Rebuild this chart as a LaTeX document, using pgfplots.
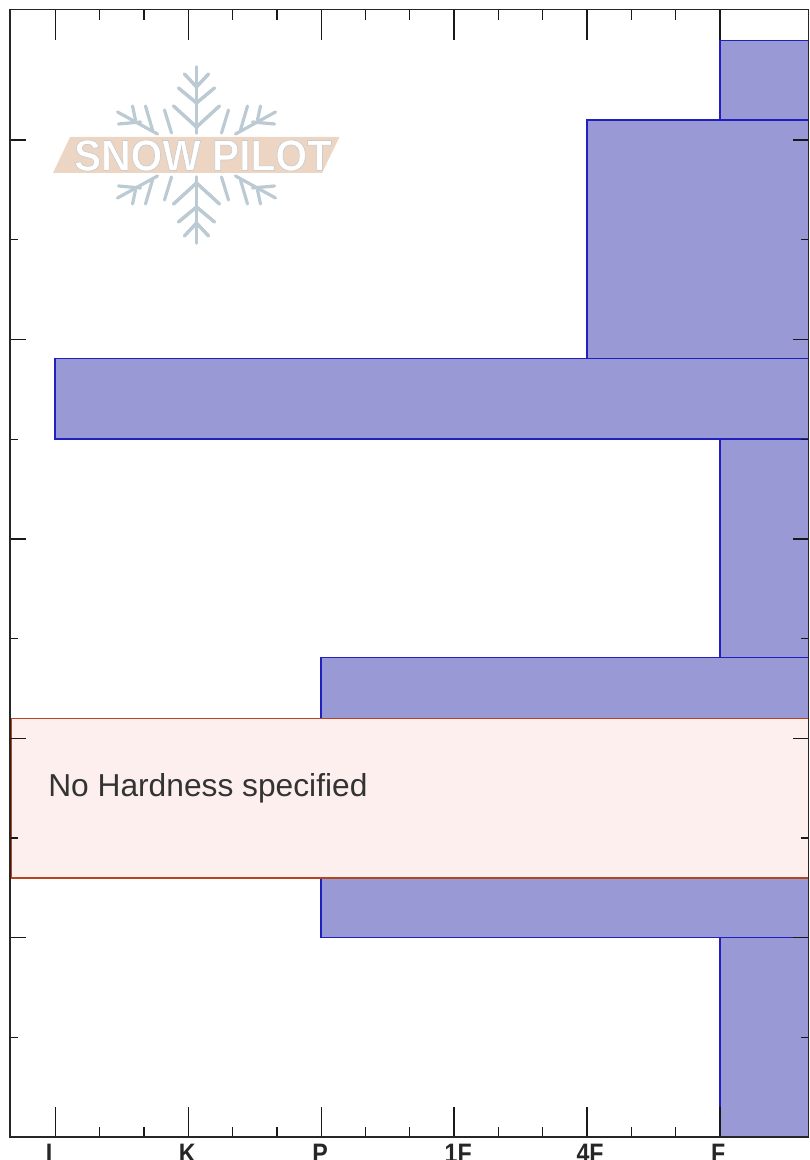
\documentclass[border=0pt]{standalone}
\usepackage{graphicx}
\usepackage{fontspec}
\setmainfont{Liberation Sans}
\newfontfamily\tickfont[FakeStretch=0.87]{Liberation Sans}
\usepackage{pgfplots}
\pgfplotsset{compat=1.18}
\definecolor{barfill}{HTML}{9999D6}
\definecolor{baredge}{HTML}{2020C0}
\definecolor{pinkfill}{HTML}{FEEFEF}
\definecolor{pinkedge}{HTML}{B4451F}
\definecolor{flake}{HTML}{BCCAD3}
\definecolor{banner}{HTML}{ECD6C3}
\pgfplotsset{
  base/.style={
    at={(7.5pt,17.25pt)}, anchor=south west,
    scale only axis, width=598.9pt, height=845.6pt,
    xmin=0.66, xmax=6.665, ymin=0, ymax=56.55,
    axis line style={line width=1.25pt, black!85},
    tick style={line width=1pt, black!90},
    axis on top,
  }
}
\newcommand{\layer}[4]{\addplot[fill=barfill, draw=baredge, line width=1.1pt] coordinates {(#1,#3)(#2,#3)(#2,#4)(#1,#4)} -- cycle;}
\begin{document}
\begin{tikzpicture}[x=0.75pt,y=-0.75pt]
\path[use as bounding box, clip] (0,0) rectangle (810,-1160);
\begin{axis}[base,
  xtick={1,2,3,4,5,6},
  xticklabels={I\kern9pt,K\kern1.5pt,P\kern1.5pt,\kern6pt 1F,\kern4.5pt 4F,F\kern3pt},
  minor x tick num=2,
  ytick=\empty,
  tick align=inside, xtick pos=both,
  major tick length=22.5pt, minor tick length=7.5pt,
  xticklabel style={font=\tickfont\fontsize{20pt}{20pt}\selectfont\bfseries, anchor=north, yshift=-2pt, text=black!85},
]
\layer{6}{7}{0}{10}
\layer{3}{7}{10}{24.05}
\layer{6}{7}{24.05}{35}
\layer{1}{7}{35}{39.05}
\layer{5}{7}{39.05}{51}
\layer{6}{7}{51}{55}
\addplot[fill=pinkfill, draw=pinkedge, line width=1.1pt] coordinates {(0.667,13)(7,13)(7,21)(0.667,21)} -- cycle;
\end{axis}
\begin{axis}[base,
  xtick=\empty,
  ytick={0,10,20,30,40,50},
  yticklabels={},
  minor y tick num=1,
  tick align=inside, ytick pos=both,
  major tick length=12pt, minor tick length=6pt,
]
\end{axis}
\node[anchor=base west, font=\fontsize{23.8pt}{23.8pt}\selectfont, text=black!80, inner sep=0pt] at (48,-363) {No Hardness specified};
% logo
\begin{scope}[shift={(196.5,-1005)}]
\foreach \sx in {1,-1}{\foreach \sy in {1,-1}{
\begin{scope}[xscale=\sx, yscale=\sy, line cap=round, line width=2.4pt, draw=flake]
\draw (0,88)--(0,22);
\draw (0,68)--(-12,81) (0,68)--(12,81);
\draw (0,52)--(-18,67) (0,52)--(18,67);
\draw (0,28)--(-23,49) (0,28)--(23,49);
\draw (-39,21)--(-79,43);
\draw (-64,49)--(-61,35);
\draw (-51,49)--(-44,25);
\draw (-78,31)--(-56,33);
\draw (-32,45)--(-25,22);
\end{scope}
}}
\end{scope}
\fill[banner] (70,-1023) -- (339.5,-1023) -- (322,-987) -- (53,-987) -- cycle;
\node[inner sep=0pt, text=white] at (203,-1004.5) {\resizebox{193.5pt}{23pt}{\special{pdf:code 2 Tr 0.5 w 0.8 G}\fontsize{30pt}{30pt}\selectfont\bfseries SNOW PILOT\special{pdf:code 0 Tr 0 G}}};
\end{tikzpicture}
\end{document}
